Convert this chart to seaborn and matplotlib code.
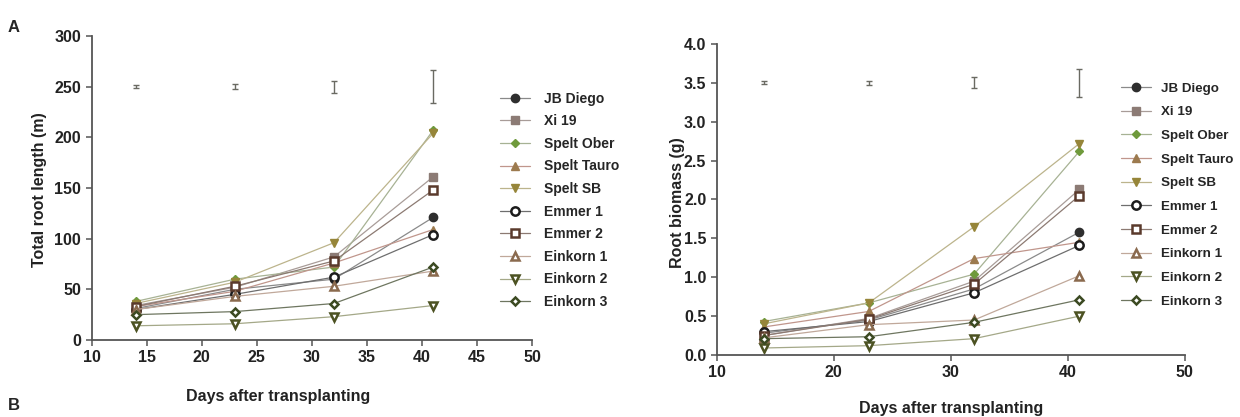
import numpy as np
import pandas as pd
import seaborn as sns
import matplotlib.pyplot as plt

# Days after transplanting
days = [14, 23, 32, 41]

varieties = ['JB Diego', 'Xi 19', 'Spelt Ober', 'Spelt Tauro', 'Spelt SB',
             'Emmer 1', 'Emmer 2', 'Einkorn 1', 'Einkorn 2', 'Einkorn 3']

# Total root length (m)
length_jb_diego = [31, 50, 60, 121]
length_xi19 = [34, 52, 82, 161]
length_spelt_ober = [38, 60, 72, 207]
length_spelt_tauro = [33, 48, 76, 109]
length_spelt_sb = [36, 57, 96, 204]
length_emmer1 = [30, 45, 62, 104]
length_emmer2 = [33, 53, 78, 148]
length_einkorn1 = [30, 43, 53, 68]
length_einkorn2 = [14, 16, 23, 34]
length_einkorn3 = [25, 28, 36, 72]

# Root biomass (g)
mass_jb_diego = [0.28, 0.45, 0.85, 1.58]
mass_xi19 = [0.25, 0.47, 0.95, 2.13]
mass_spelt_ober = [0.43, 0.67, 1.04, 2.62]
mass_spelt_tauro = [0.36, 0.56, 1.24, 1.45]
mass_spelt_sb = [0.40, 0.67, 1.65, 2.72]
mass_emmer1 = [0.30, 0.43, 0.80, 1.41]
mass_emmer2 = [0.25, 0.46, 0.91, 2.05]
mass_einkorn1 = [0.22, 0.39, 0.45, 1.02]
mass_einkorn2 = [0.09, 0.12, 0.21, 0.50]
mass_einkorn3 = [0.21, 0.235, 0.42, 0.71]

# error bars drawn above the curves
err_length_center = 250
err_length = [1.5, 2.5, 6, 16]
err_mass_center = 3.5
err_mass = [0.02, 0.025, 0.07, 0.18]

lengths = [length_jb_diego, length_xi19, length_spelt_ober, length_spelt_tauro, length_spelt_sb,
           length_emmer1, length_emmer2, length_einkorn1, length_einkorn2, length_einkorn3]
masses = [mass_jb_diego, mass_xi19, mass_spelt_ober, mass_spelt_tauro, mass_spelt_sb,
          mass_emmer1, mass_emmer2, mass_einkorn1, mass_einkorn2, mass_einkorn3]

# marker, marker colour, filled?, line colour
styles = {
    'JB Diego':    ('o', '#2e2e2e', True,  '#8a8a8a'),
    'Xi 19':       ('s', '#8c7b75', True,  '#a89c98'),
    'Spelt Ober':  ('D', '#6f9a3c', True,  '#a7b294'),
    'Spelt Tauro': ('^', '#9c7a4e', True,  '#c0968c'),
    'Spelt SB':    ('v', '#968539', True,  '#bcb48c'),
    'Emmer 1':     ('o', '#1c1c1c', False, '#6e6e6e'),
    'Emmer 2':     ('s', '#5a3a2c', False, '#8c7a72'),
    'Einkorn 1':   ('^', '#8a6a4e', False, '#c0a89a'),
    'Einkorn 2':   ('v', '#4c5222', False, '#a4a888'),
    'Einkorn 3':   ('D', '#3c4a22', False, '#6e7660'),
}

sns.set_style("ticks")
plt.rcParams['font.family'] = ['Liberation Sans', 'DejaVu Sans']
plt.rcParams['font.weight'] = 'bold'

fig = plt.figure(figsize=(12.4, 4.17), dpi=100)
ax1 = fig.add_axes([0.0738, 0.1847, 0.3555, 0.729])
ax2 = fig.add_axes([0.578, 0.1487, 0.3774, 0.7458])


def draw(ax, data, err_c, err):
    handles = []
    for name, vals in zip(varieties, data):
        mk, mc, filled, lc = styles[name]
        df = pd.DataFrame({'day': days, 'value': vals})
        size = 6 if mk != 'D' else 4.5
        sns.lineplot(data=df, x='day', y='value', ax=ax, color=lc, linewidth=0.9,
                     marker=mk, markersize=size, markeredgecolor=mc,
                     markerfacecolor=mc if filled else 'white',
                     markeredgewidth=1.0 if filled else 1.8)
        handles.append(ax.lines[-1])
    ax.errorbar(days, [err_c] * len(days), yerr=err, fmt='none', ecolor='#6a6a62',
                elinewidth=1.0, capsize=2.5, capthick=1.0)
    ax.set_xlabel('')
    ax.set_ylabel('')
    for s in ['top', 'right']:
        ax.spines[s].set_visible(False)
    for s in ['left', 'bottom']:
        ax.spines[s].set_color('#555555')
        ax.spines[s].set_linewidth(1.3)
    ax.tick_params(colors='#555555', labelcolor='#222222', labelsize=11.5, length=4, width=1.1)
    for lab in ax.get_xticklabels() + ax.get_yticklabels():
        lab.set_fontweight('bold')
    return handles


h1 = draw(ax1, lengths, err_length_center, err_length)
ax1.set_xlim(10, 50)
ax1.set_ylim(0, 300)
ax1.set_xticks(np.arange(10, 51, 5))
ax1.set_yticks(np.arange(0, 301, 50))

h2 = draw(ax2, masses, err_mass_center, err_mass)
ax2.set_xlim(10, 50)
ax2.set_ylim(0, 4.0)
ax2.set_xticks(np.arange(10, 51, 10))
ax2.set_yticks(np.arange(0, 4.01, 0.5))
ax2.set_yticklabels([f'{v:.1f}' for v in np.arange(0, 4.01, 0.5)])
for lab in ax2.get_yticklabels():
    lab.set_fontweight('bold')

leg_kw = dict(frameon=False, handlelength=2.2, borderaxespad=0, loc='upper left')
fig.legend(h1, varieties, bbox_to_anchor=(494 / 1240, 1 - 86 / 417), labelspacing=0.62,
           handletextpad=1.0, prop={'weight': 'bold', 'size': 10}, **leg_kw)
fig.legend(h2, varieties, bbox_to_anchor=(1116 / 1240, 1 - 77 / 417), labelspacing=0.85,
           handletextpad=0.8, prop={'weight': 'bold', 'size': 9.6}, **leg_kw)

fig.text(278 / 1240, 1 - 397 / 417, 'Days after transplanting', ha='center', va='center',
         fontsize=11.5, fontweight='bold', color='#222222')
fig.text(951 / 1240, 1 - 408 / 417, 'Days after transplanting', ha='center', va='center',
         fontsize=11.5, fontweight='bold', color='#222222')
fig.text(40 / 1240, 1 - 190 / 417, 'Total root length (m)', ha='center', va='center',
         rotation=90, fontsize=11.5, fontweight='bold', color='#222222')
fig.text(677 / 1240, 1 - 203 / 417, 'Root biomass (g)', ha='center', va='center',
         rotation=90, fontsize=11.5, fontweight='bold', color='#222222')
fig.text(14 / 1240, 1 - 28 / 417, 'A', ha='center', va='center', fontsize=12, fontweight='bold')
fig.text(14 / 1240, 1 - 405 / 417, 'B', ha='center', va='center', fontsize=12, fontweight='bold')

fig.savefig('out.png', dpi=100)
